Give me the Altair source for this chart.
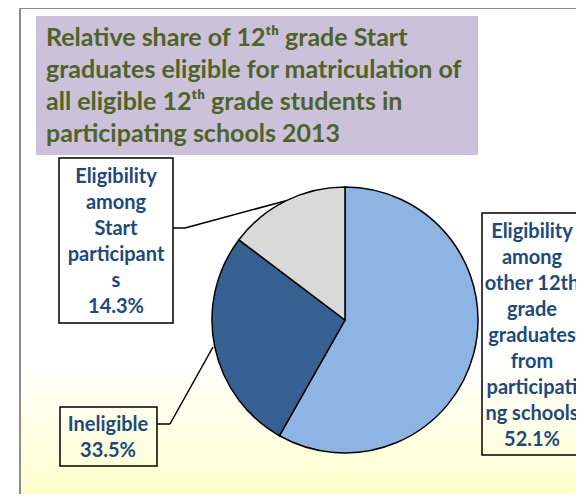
import altair as alt
import pandas as pd

# ---- data ----
categories = [
    "Eligibility among other 12th grade graduates from participating schools",
    "Ineligible",
    "Eligibility among Start participants",
]
slice_share = [58.2, 27.1, 14.7]          # angular share of each slice as drawn
label_pct = ["52.1%", "33.5%", "14.3%"]   # percentages printed in the labels
slice_colors = ["#8EB4E3", "#366092", "#D9D9D9"]
label_lines = [
    ["Eligibility", "among", "other 12th", "grade", "graduates", "from",
     "participati", "ng schools"],
    ["Ineligible"],
    ["Eligibility", "among", "Start", "participant", "s"],
]
title_lines = [
    "Relative share of 12\u1d57\u02b0 grade Start",
    "graduates eligible for matriculation of",
    "all eligible 12\u1d57\u02b0 grade students in",
    "participating schools 2013",
]

df = pd.DataFrame({
    "category": categories,
    "share": slice_share,
    "idx": list(range(len(categories))),
    "label": ["\n".join(l + [p]) for l, p in zip(label_lines, label_pct)],
})
one = pd.DataFrame({"k": [0]})
title_df = pd.DataFrame({"title": ["\n".join(title_lines)]})

FONT = "Lato"
TXT = "#1F497D"

# ---- background frame with gradient ----
frame = alt.Chart(one).mark_rect(
    fill=alt.LinearGradient(
        gradient="linear",
        stops=[
            alt.GradientStop(color="#FFFFFF", offset=0),
            alt.GradientStop(color="#FFFFFF", offset=0.70),
            alt.GradientStop(color="#FFFFC8", offset=1),
        ],
        x1=0, x2=0, y1=0, y2=1,
    ),
    stroke="#8C8C8C", strokeWidth=2,
).encode(x=alt.value(12), x2=alt.value(600), y=alt.value(0), y2=alt.value(500))

# ---- title box ----
title_box = alt.Chart(one).mark_rect(fill="#CCC1DA").encode(
    x=alt.value(28), x2=alt.value(470), y=alt.value(8), y2=alt.value(147)
)
title_text = alt.Chart(title_df).mark_text(
    align="left", baseline="alphabetic", font=FONT, fontWeight="bold",
    fontSize=25, lineHeight=32, lineBreak="\n", color="#4F6228",
).encode(x=alt.value(38), y=alt.value(38), text="title:N")

# ---- pie ----
pie = alt.Chart(df).mark_arc(radius=133, stroke="black", strokeWidth=1.5).encode(
    theta=alt.Theta("share:Q", stack=True),
    color=alt.Color("category:N",
                    scale=alt.Scale(domain=categories, range=slice_colors),
                    legend=None),
    order=alt.Order("idx:Q"),
    x=alt.value(337), y=alt.value(312),
)

# ---- label boxes and leader lines ----
def box(x1, x2, y1, y2):
    return alt.Chart(one).mark_rect(fill="transparent", stroke="black", strokeWidth=1.5).encode(
        x=alt.value(x1), x2=alt.value(x2), y=alt.value(y1), y2=alt.value(y2))

def seg(x1, y1, x2, y2):
    return alt.Chart(one).mark_rule(color="black", strokeWidth=1.5).encode(
        x=alt.value(x1), x2=alt.value(x2), y=alt.value(y1), y2=alt.value(y2))

def label(cat, x, y):
    return alt.Chart(df).transform_filter(
        alt.datum.category == cat
    ).mark_text(
        align="center", baseline="alphabetic", font=FONT, fontWeight="bold",
        fontSize=20, lineHeight=26, lineBreak="\n", color=TXT,
    ).encode(x=alt.value(x), y=alt.value(y), text="label:N")

layers = [
    frame, title_box, title_text, pie,
    box(51, 165, 150, 315), box(52, 149, 399, 458), box(474, 585, 205, 447),
    seg(277, 193, 177, 220), seg(177, 220, 165, 220),
    seg(205, 339, 162, 416), seg(162, 416, 149, 416),
    label(categories[0], 524, 230),
    label(categories[1], 100, 423),
    label(categories[2], 108, 175),
]

chart = alt.layer(*layers).properties(
    width=568, height=486, padding=0,
    autosize=alt.AutoSizeParams(type="none"),
    background="white",
).configure_view(strokeOpacity=0)

chart.save("out.html", embed_options={"renderer": "svg", "actions": False})
